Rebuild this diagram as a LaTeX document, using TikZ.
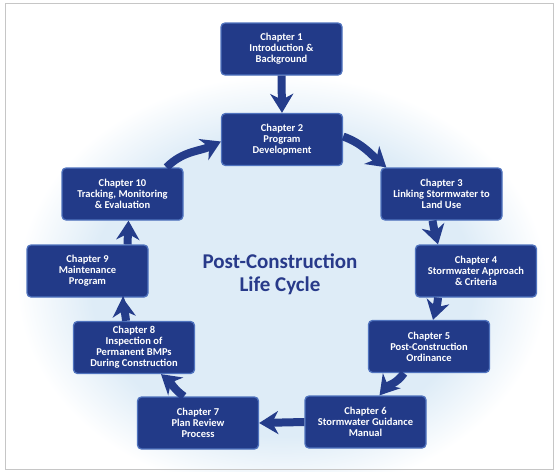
\documentclass[tikz,border=0pt]{standalone}
\usepackage{fontspec}
\setmainfont{Carlito}
\usetikzlibrary{arrows.meta,positioning,calc}
\definecolor{boxblue}{RGB}{34,58,136}
\definecolor{edgeblue}{RGB}{80,115,190}
\definecolor{arrowblue}{RGB}{36,60,138}
\definecolor{titleblue}{RGB}{40,58,138}
\definecolor{disk}{RGB}{222,236,247}
\pgfdeclareradialshading{diskfade}{\pgfpoint{0bp}{0bp}}{%
  color(0bp)=(disk); color(18bp)=(disk); color(25bp)=(white); color(50bp)=(white)}
\begin{document}
\begin{tikzpicture}[x=1pt,y=-1pt,
  chap/.style={rectangle, rounded corners=4pt, fill=boxblue, draw=edgeblue,
    line width=1.3pt, text=white, align=center, inner sep=0pt,
    minimum width=121pt, minimum height=52pt,
    font=\bfseries\fontsize{10.5}{11}\selectfont},
  flow/.style={draw=arrowblue, line width=8pt,
    -{Stealth[length=19pt,width=23pt,inset=6pt]}},
  title/.style={text=titleblue, align=center, font=\bfseries\fontsize{21}{23}\selectfont}]
\useasboundingbox (0,0) rectangle (556,471);
\fill[white] (0,0) rectangle (556,471);
\shade[shading=diskfade] (282,285) ellipse [x radius=265, y radius=210];
\draw[gray!45, line width=0.8pt] (5,3) rectangle (553,469);

\node[chap] (c1) at (281.5,49) {Chapter 1\\Introduction \&\\Background};
\node[chap] (c2) at (282,139.5) {Chapter 2\\Program\\Development};
\node[chap] (c3) at (441.5,194) {Chapter 3\\Linking Stormwater to\\Land Use};
\node[chap] (c4) at (476,271) {Chapter 4\\Stormwater Approach\\\& Criteria};
\node[chap] (c5) at (429,346.5) {Chapter 5\\Post-Construction\\Ordinance};
\node[chap] (c6) at (365.5,422) {Chapter 6\\Stormwater Guidance\\Manual};
\node[chap] (c7) at (198,423) {Chapter 7\\Plan Review\\Process};
\node[chap] (c8) at (134,347.5) {Chapter 8\\Inspection of\\Permanent BMPs\\During Construction};
\node[chap] (c9) at (87.5,271) {Chapter 9\\Maintenance\\Program};
\node[chap] (c10) at (122.5,194) {Chapter 10\\Tracking, Monitoring\\\& Evaluation};

\node[title] (t) at (280,274) {Post-Construction\\Life Cycle};

\coordinate (a2s) at ($(c2.east)+(0,-3)$);
\coordinate (a2e) at ($(c3.north west)+(6,0)$);
\coordinate (a3s) at ($(c3.south)+(-9,0)$);
\coordinate (a3e) at ($(c4.north)+(-38,0)$);
\coordinate (a4s) at ($(c4.south)+(-38,0)$);
\coordinate (a4e) at ($(c5.north)+(4,0)$);
\coordinate (a5s) at ($(c5.south)+(-25,0)$);
\coordinate (a5e) at ($(c6.north)+(14,0)$);
\coordinate (a7s) at ($(c7.north)+(-14,0)$);
\coordinate (a7e) at ($(c8.south)+(27,0)$);
\coordinate (a8s) at ($(c8.north)+(-8,0)$);
\coordinate (a8e) at ($(c9.south)+(35,0)$);
\coordinate (a9s) at ($(c9.north)+(40,0)$);
\coordinate (a9e) at ($(c10.south)+(6,0)$);
\coordinate (a10s) at ($(c10.north)+(44,0)$);
\coordinate (a10e) at ($(c2.west)+(0,2)$);

\draw[flow] (c1.south) -- (c2.north);
\draw[flow] (a2s) to[out=-20,in=140] (a2e);
\draw[flow] (a3s) to[out=-80,in=105] (a3e);
\draw[flow] (a4s) to[out=-95,in=75] (a4e);
\draw[flow] (a5s) to[out=-125,in=50] (a5e);
\draw[flow] (c6.west) -- (c7.east);
\draw[flow] (a7s) to[out=145,in=-40] (a7e);
\draw[flow] (a8s) to[out=95,in=-85] (a8e);
\draw[flow] (a9s) to[out=88,in=-92] (a9e);
\draw[flow] (a10s) to[out=45,in=205] (a10e);
\end{tikzpicture}
\end{document}
